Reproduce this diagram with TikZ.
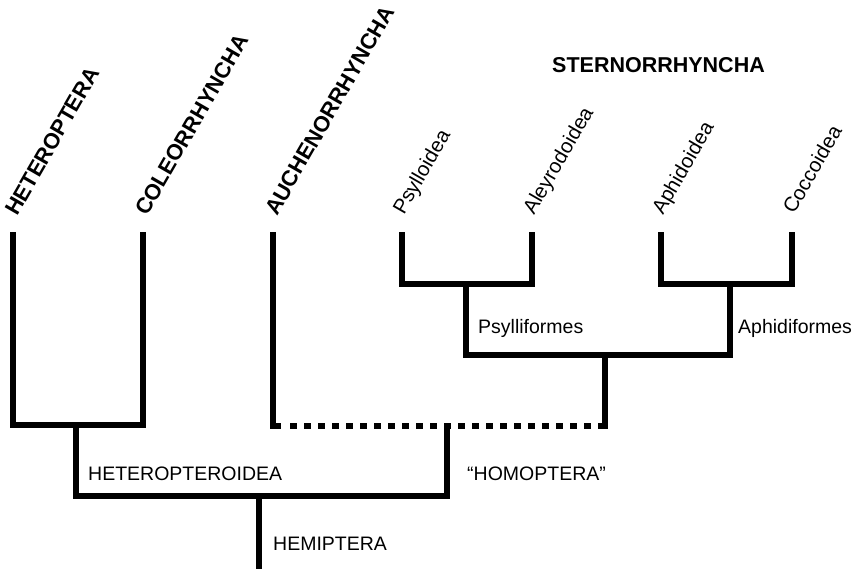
\documentclass[tikz,border=0pt]{standalone}
\usepackage{fontspec}
\setmainfont{Liberation Sans}
\begin{document}
\begin{tikzpicture}[x=1pt,y=-1pt,
  br/.style={line width=6.8pt, line join=miter, line cap=rect},
  dsh/.style={line width=6.8pt, dash pattern=on 7pt off 7pt},
  bigtax/.style={font=\bfseries\fontsize{22}{24}\selectfont, rotate=60, anchor=base west, inner sep=0pt},
  smalltax/.style={font=\fontsize{20.5}{22}\selectfont, rotate=60, anchor=base west, inner sep=0pt},
  clade/.style={font=\fontsize{19.5}{22}\selectfont, anchor=base west, inner sep=0pt},
  grp/.style={font=\bfseries\fontsize{21.5}{24}\selectfont, anchor=base west, inner sep=0pt}]
\fill[white] (0,0) rectangle (857,568);
\useasboundingbox (0,0) rectangle (857,568);
% tips
\coordinate (het) at (13,235);
\coordinate (col) at (143,235);
\coordinate (auc) at (273,235);
\coordinate (psy) at (402,235);
\coordinate (ale) at (532,235);
\coordinate (aph) at (661,235);
\coordinate (coc) at (792,235);
% internal nodes
\coordinate (hcj) at (76,425);
\coordinate (psf) at (466,284);
\coordinate (apf) at (730,284);
\coordinate (ste) at (605,355);
\coordinate (sb) at (605,426);
\coordinate (ac) at (273,426);
\coordinate (d0) at (290,426);
\coordinate (hom) at (447,426);
\coordinate (hemi) at (259,496);
\coordinate (root) at (259,575);
% branches
\draw[br] (het) |- (hcj) -| (col);
\draw[br] (psy) |- (psf) -| (ale);
\draw[br] (aph) |- (apf) -| (coc);
\draw[br] (psf) |- (ste) -| (apf);
\draw[br] (ste) -- (sb);
\draw[br] (auc) -- (ac) -- ++(5,0);
\draw[dsh] (d0) -- (sb);
\draw[br] (hom) |- (hemi) -| (hcj);
\draw[br] (hemi) -- (root);
% labels
\node[bigtax] (lhet) at (17,217) {HETEROPTERA};
\node[bigtax] (lcol) at (147,217) {COLEORRHYNCHA};
\node[bigtax] (lauc) at (277,217) {AUCHENORRHYNCHA};
\node[smalltax] (lpsy) at (404,216) {Psylloidea};
\node[smalltax] (lale) at (534,216) {Aleyrodoidea};
\node[smalltax] (laph) at (663,216) {Aphidoidea};
\node[smalltax] (lcoc) at (794,215) {Coccoidea};
\node[grp] (lste) at (552,72) {STERNORRHYNCHA};
\node[clade] (lpsf) at (478,333) {Psylliformes};
\node[clade] (lapf) at (738,333) {Aphidiformes};
\node[clade] (lhtd) at (88,480) {HETEROPTEROIDEA};
\node[clade] (lhom) at (467,480) {“HOMOPTERA”};
\node[clade] (lhem) at (273,550) {HEMIPTERA};
\end{tikzpicture}
\end{document}
